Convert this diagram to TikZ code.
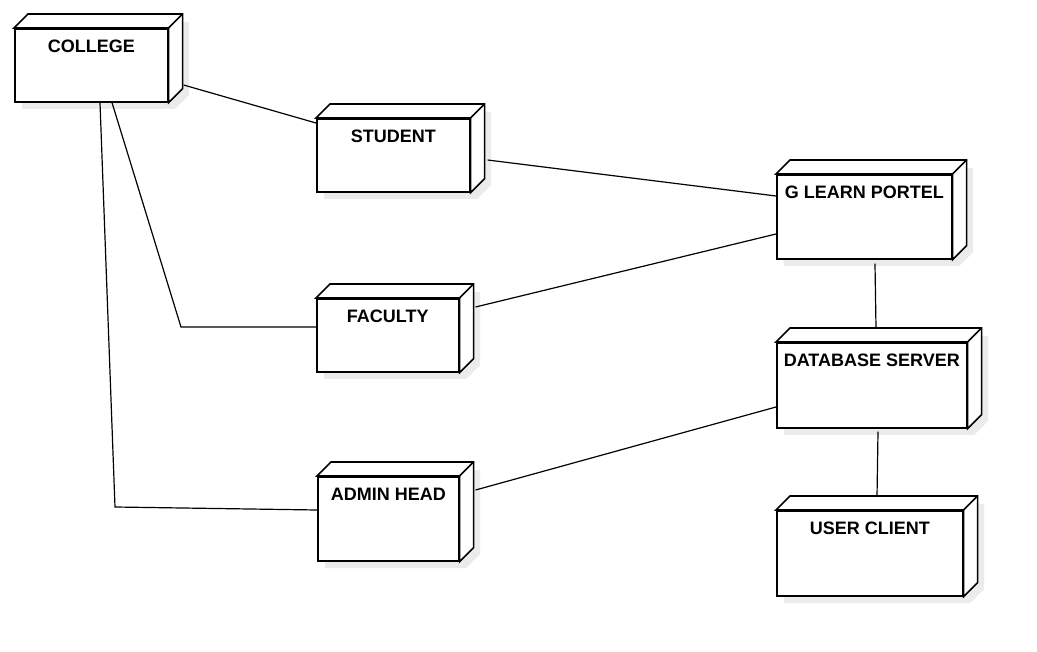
\documentclass[tikz,border=0pt]{standalone}
\usepackage{fontspec}
\setmainfont{Liberation Sans}
\usetikzlibrary{calc}
\tikzset{
  front/.style={draw=black, line width=1.6pt, fill=white, inner sep=0pt, anchor=north west},
  face/.style={draw=black, line width=1.6pt, fill=white, line join=miter},
  lbl/.style={font=\bfseries\fontsize{18}{21}\selectfont, anchor=base, inner sep=0pt},
  conn/.style={draw=black, line width=1.2pt},
  shade/.style={fill=black!8},
}
\newcommand\depnode[6]{%
  \fill[shade] (#2+8,#3+8) -- (#2+22,#3-6) -- (#4+22,#3-6) -- (#4+22,#5-6) -- (#4+8,#5+8) -- (#2+8,#5+8) -- cycle;
  \node[front, minimum width={(#4-#2)*1pt}, minimum height={(#5-#3)*1pt}] (#1) at (#2,#3) {};
  \draw[face] (#1.north west) -- ++(14,-14) -- ($(#1.north east)+(14,-14)$) -- ($(#1.south east)+(14,-14)$) -- (#1.south east) -- (#1.north east) -- cycle;
  \draw[face] (#1.north east) -- ++(14,-14);
  \node[lbl] (#1-l) at ($(#1.north)+(0,24.5)$) {#6};
}
\begin{document}
\begin{tikzpicture}[x=1pt,y=-1pt]
\useasboundingbox[fill=white] (0,0) rectangle (1037,652);
\depnode{college}{14}{28}{167}{101}{COLLEGE}
\depnode{student}{316}{118}{469}{191}{STUDENT}
\depnode{glearn}{776}{174}{951}{258}{G LEARN PORTEL}
\depnode{faculty}{316}{298}{458}{371}{FACULTY}
\depnode{admin}{317}{476}{458}{560}{ADMIN HEAD}
\depnode{database}{776}{342}{966}{427}{DATABASE SERVER}
\depnode{client}{776}{510}{962}{595}{USER CLIENT}
\coordinate (cf) at (181,327);
\coordinate (ca) at (115,507);
\draw[conn] ($(college.north east)+(15,57)$) -- ($(student.north west)+(0,5)$);
\draw[conn] ($(college.south west)+(98,0)$) -- (cf) -- ($(faculty.north west)+(0,29)$);
\draw[conn] ($(college.south west)+(86,0)$) -- (ca) -- ($(admin.north west)+(0,34)$);
\draw[conn] ($(student.north east)+(17,42)$) -- ($(glearn.north west)+(0,22)$);
\draw[conn] ($(faculty.north east)+(16,9)$) -- ($(glearn.north west)+(0,60)$);
\draw[conn] ($(glearn.south west)+(99,4)$) -- ($(database.north west)+(100,-14)$);
\draw[conn] ($(admin.north east)+(16,14)$) -- ($(database.north west)+(0,65)$);
\draw[conn] ($(database.south west)+(102,3)$) -- ($(client.north west)+(101,-13)$);
\end{tikzpicture}
\end{document}
